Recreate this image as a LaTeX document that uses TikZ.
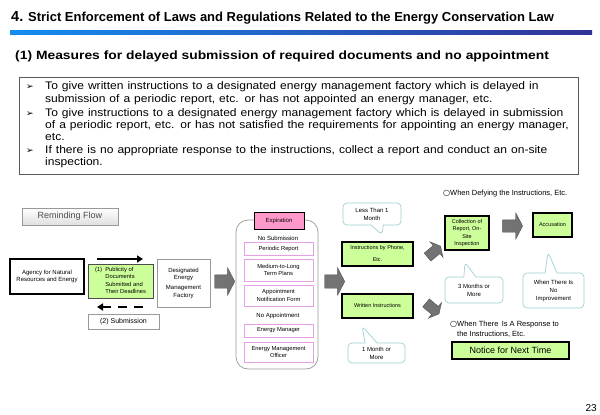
\documentclass[tikz,border=0pt]{standalone}
\usepackage{graphicx}
\usepackage{fontspec}
\setmainfont{Liberation Sans}
\newfontfamily\dejavu{DejaVu Sans}
\usetikzlibrary{positioning,shapes.arrows,shapes.callouts,arrows.meta}

\definecolor{leafgreen}{RGB}{204,255,153}
\definecolor{expirepink}{RGB}{255,153,204}
\definecolor{itemline}{RGB}{230,160,230}
\definecolor{balloon}{RGB}{160,208,212}
\definecolor{barleft}{RGB}{20,140,240}
\definecolor{barright}{RGB}{50,50,150}
\definecolor{blockgray}{RGB}{115,115,115}

\newcommand{\setfs}[2]{\fontsize{#1}{#2}\selectfont}
\newcommand{\ring}{{\dejavu\setfs{8}{10}○}}

\begin{document}
\begin{tikzpicture}[x=1pt,y=-1pt,
  every node/.style={inner sep=0pt},
  greenbox/.style={draw=black,line width=1.2pt,fill=leafgreen,align=center,font=\setfs{5.5}{7.5}},
  itembox/.style={draw=itemline,line width=0.6pt,fill=white,minimum width=69pt,align=center,font=\setfs{5.8}{7.8}},
  plainbox/.style={draw=gray!80,line width=0.7pt,fill=white,align=center},
  blockarrow/.style={single arrow,draw=blockgray!70!black,fill=blockgray,line width=0.4pt,
    inner sep=6.5pt,single arrow head extend=7pt,single arrow tip angle=125,minimum height=20pt},
  smallarrow/.style={blockarrow,inner sep=5pt,single arrow head extend=5pt,minimum height=17pt},
  balloonnote/.style={rectangle callout,draw=balloon,line width=0.7pt,fill=white,rounded corners=4pt,
    callout pointer width=12pt,align=center,font=\setfs{6}{8}},
  flowarrow/.style={line width=2pt,-{Triangle[length=6pt,width=7pt]}},
  bodytext/.style={anchor=base west,text width=500pt,align=left,font=\setfs{11}{12.3},
    xscale=1.095,transform shape},
  note/.style={anchor=west,align=left,font=\setfs{7.5}{10}}]
\useasboundingbox (0,0) rectangle (600,415);

% heading
\node[anchor=base west] (title) at (11,21.7)
  {\bfseries\setfs{14.5}{16}4.\setfs{13}{14} Strict Enforcement of Laws and Regulations Related to the Energy Conservation Law};
\shade[left color=barleft,right color=barright] (10,30.5) rectangle (592,34.5);
\node[anchor=base west,font=\bfseries\setfs{12}{13},xscale=1.155,transform shape] (subtitle) at (15,59.5)
  {(1) Measures for delayed submission of required documents and no appointment};

% measures
\node[draw=gray!70!black,line width=0.6pt,minimum width=559pt,minimum height=96.5pt] (points) at (298.5,125.75) {};
\foreach \name/\y in {b1/89.7,b2/116,b3/153.3}
  \node[anchor=base west,font=\dejavu\setfs{9}{10}] (\name) at (26,\y) {➢};
\node[bodytext] (t1) at (45,89.7)
  {To give written instructions to a designated energy management factory which is delayed in\\
   submission of a periodic report, etc. or has not appointed an energy manager, etc.};
\node[bodytext] (t2) at (45,116)
  {To give instructions to a designated energy management factory which is delayed in submission\\
   of a periodic report, etc. or has not satisfied the requirements for appointing an energy manager,\\
   etc.};
\node[bodytext] (t3) at (45,153.3)
  {If there is no appropriate response to the instructions, collect a report and conduct an on-site\\
   inspection.};

% reminding flow
\node[draw=gray!80,top color=white,bottom color=gray!25,minimum width=96pt,minimum height=17pt,
  text=gray!60!black,font=\setfs{9}{10}] (remind) at (70,216.5) {Reminding Flow};
\node[draw=black,line width=1.5pt,fill=white,minimum width=74pt,minimum height=35pt,
  align=center,font=\setfs{6}{7.3}] (agency) at (47,276.5) {Agency for Natural\\Resources and Energy};
\node[draw=gray!60!black,line width=0.6pt,fill=leafgreen,minimum width=65pt,minimum height=34pt,
  font=\setfs{5.8}{7.3}] (publicity) at (120.5,281)
  {\begin{tabular}{@{}l@{\ \ }l@{}}(1)&Publicity of\\&Documents\\&Submitted and\\&Their Deadlines\end{tabular}};
\node[plainbox,minimum width=53pt,minimum height=48pt,font=\setfs{6}{7.3}] (factory) at (183.5,283)
  {Designated\\Energy\\[3pt]Management\\Factory};
\node[plainbox,minimum width=71pt,minimum height=15pt,font=\setfs{7}{8}] (submit) at (123.5,321.5) {(2) Submission};
\coordinate (pubtail) at (97,259);
\coordinate (pubhead) at (143,259);
\coordinate (subtail) at (143,307);
\coordinate (subhead) at (97,307);
\draw[flowarrow] (pubtail) -- (pubhead);
\draw[flowarrow,dash pattern=on 9pt off 7pt] (subtail) -- (subhead);
\node[blockarrow] (go1) at (223,281.5) {};

% expiration
\node[draw=gray!80,line width=0.7pt,rounded corners=12pt,minimum width=82pt,minimum height=149pt] (expirebox) at (277,294.5) {};
\node[draw=black,line width=0.7pt,fill=expirepink,minimum width=50pt,minimum height=17pt,
  font=\setfs{6}{7}] (expire) at (279,220.5) {Expiration};
\node[font=\setfs{6}{7}] (nosub) at (278,238) {No Submission};
\node[itembox,minimum height=13pt] (periodic) at (278.5,248.5) {Periodic Report};
\node[itembox,minimum height=22pt] (plans) at (278.5,270) {Medium-to-Long\\Term Plans};
\node[itembox,minimum height=21pt] (notice) at (278.5,295.5) {Appointment\\Notification Form};
\node[font=\setfs{6}{7}] (noapp) at (278,316) {No Appointment};
\node[itembox,minimum height=13pt] (manager) at (278.5,330.5) {Energy Manager};
\node[itembox,minimum height=20pt] (officer) at (278.5,352) {Energy Management\\Officer};
\node[blockarrow] (go2) at (333,281.5) {};

% instructions
\node[greenbox,minimum width=71pt,minimum height=24pt] (phone) at (377.5,254) {Instructions by Phone,\\[4.5pt]Etc.};
\node[greenbox,minimum width=71pt,minimum height=24pt] (written) at (377.5,306) {Written Instructions};
\node[balloonnote,minimum width=58pt,minimum height=22pt,callout absolute pointer={(382,235)}] (lessmonth) at (372,214) {Less Than 1\\Month};
\node[balloonnote,minimum width=57pt,minimum height=20pt,callout absolute pointer={(362,326)}] (onemonth) at (376.5,353) {1 Month or\\More};
\node[smallarrow,rotate=40] (up) at (433,252.5) {};
\node[smallarrow,rotate=-40] (down) at (431.5,307.5) {};

% defying
\node[note] (defy) at (443,194) {\ring When Defying the Instructions, Etc.};
\node[greenbox,minimum width=44pt,minimum height=34pt] (collect) at (467,233) {Collection of\\Report, On-\\Site\\Inspection};
\node[blockarrow,inner sep=6pt] (go3) at (511,226) {};
\node[greenbox,minimum width=39pt,minimum height=24pt] (accuse) at (552.5,225) {Accusation};
\node[balloonnote,minimum width=58pt,minimum height=26pt,callout absolute pointer={(465,262)}] (threemonths) at (474,290) {3 Months or\\More};
\node[balloonnote,minimum width=61pt,minimum height=35pt,callout absolute pointer={(548,252)}] (noimprove) at (553.5,290.5) {When There Is\\No\\Improvement};

% response
\node[note] (response) at (450,329) {\ring When There\, Is A Response to\\\hspace{7pt}the Instructions, Etc.};
\node[greenbox,minimum width=117pt,minimum height=17pt,font=\setfs{9}{10}] (nexttime) at (510.5,350.5) {Notice for Next Time};

\node[anchor=east,font=\setfs{10}{12}] (page) at (597,408) {23};
\end{tikzpicture}
\end{document}
